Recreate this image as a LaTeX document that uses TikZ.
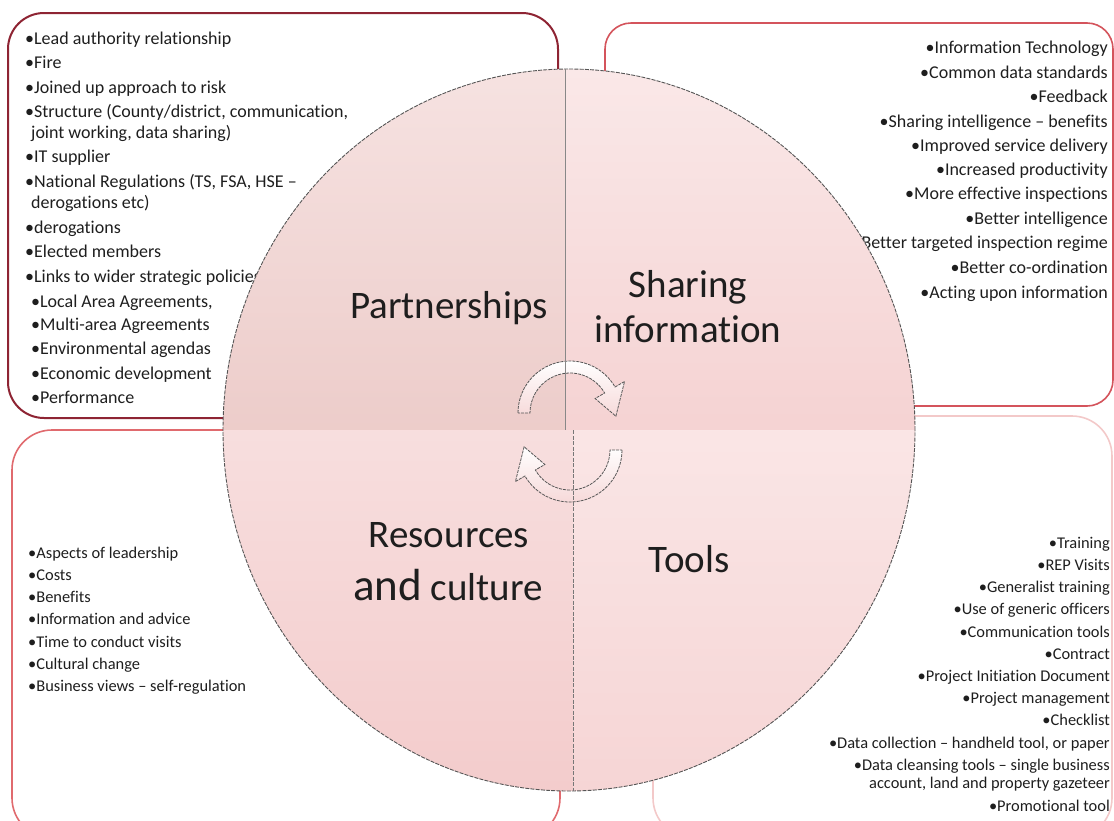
\documentclass[tikz,border=0pt]{standalone}
\usepackage{fontspec}
\setmainfont{Carlito}[Ligatures={NoCommon}]
\usetikzlibrary{calc}
\definecolor{boxtl}{HTML}{8E2433}
\definecolor{boxtr}{HTML}{D4545C}
\definecolor{boxbl}{HTML}{E06A6E}
\definecolor{boxbr}{HTML}{F3C9C9}
\definecolor{tltop}{HTML}{F6E2E1}
\definecolor{tlbot}{HTML}{E3B7B3}
\definecolor{trtop}{HTML}{FAE8E8}
\definecolor{trbot}{HTML}{F0BDBD}
\definecolor{bltop}{HTML}{FCF0F0}
\definecolor{blbot}{HTML}{F3CCCC}
\definecolor{brtop}{HTML}{FEF6F6}
\definecolor{brbot}{HTML}{F6D5D5}
\definecolor{txt}{HTML}{1E1E1E}
\definecolor{rim}{HTML}{555555}
\tikzset{
  cbox/.style={line width=1.6pt, rounded corners=36pt},
  li/.style={font=\fontsize{18}{21}\selectfont, text=txt, inner sep=0pt},
  lis/.style={font=\fontsize{16.4}{19}\selectfont, text=txt, inner sep=0pt},
  big/.style={font=\fontsize{39}{45}\selectfont, text=txt, inner sep=0pt, anchor=base},
  rimline/.style={draw=rim, line width=0.9pt, dash pattern=on 4pt off 1.2pt},
  cyc/.style={draw=rim, line width=0.8pt, dash pattern=on 3pt off 1pt, top color=white, bottom color=boxbr!70}
}
\begin{document}
\begin{tikzpicture}[x=1pt,y=1pt]
\useasboundingbox (0,0) rectangle (1114,-820);
% corner boxes
\draw[cbox, draw=boxtl, line width=2pt] (8,-13) rectangle (558,-418);
\draw[cbox, draw=boxtr, rounded corners=26pt] (605,-23) rectangle (1113,-406);
\draw[cbox, draw=boxbl, rounded corners=40pt] (12,-430) rectangle (560,-838);
\draw[cbox, draw=boxbr, rounded corners=40pt] (653,-416) rectangle (1112,-838);
% top-left list
\foreach \t/\x/\y [count=\i] in {
 {•Lead authority relationship}/25/44.5,
 {•Fire}/25/68.5,
 {•Joined up approach to risk}/25/93.5,
 {•Structure (County/district, communication,}/25/117.5,
 {joint working, data sharing)}/31/138.5,
 {•IT supplier}/25/162.5,
 {•National Regulations (TS, FSA, HSE –}/25/187.5,
 {derogations etc)}/31/208.5,
 {•derogations}/25/233.5,
 {•Elected members}/25/257.5,
 {•Links to wider strategic policies}/25/282.5,
 {•Local Area Agreements,}/31/307.5,
 {•Multi-area Agreements}/31/330.5,
 {•Environmental agendas}/31/354.5,
 {•Economic development}/31/379.5,
 {•Performance}/31/403.5}
 \node[li, anchor=base west] (tl\i) at (\x,-\y) {\t};
% top-right list
\foreach \t/\y [count=\i] in {
 {•Information Technology}/53.5,
 {•Common data standards}/78.5,
 {•Feedback}/102.5,
 {•Sharing intelligence – benefits}/127.5,
 {•Improved service delivery}/151.5,
 {•Increased productivity}/175.5,
 {•More effective inspections}/199.5,
 {•Better intelligence}/224.5,
 {•Better targeted inspection regime}/248.5,
 {•Better co-ordination}/273.5,
 {•Acting upon information}/298.5}
 \node[li, anchor=base east] (tr\i) at (1108,-\y) {\t};
% bottom-left list
\foreach \t/\y [count=\i] in {
 {•Aspects of leadership}/558,
 {•Costs}/580,
 {•Benefits}/602,
 {•Information and advice}/624,
 {•Time to conduct visits}/647,
 {•Cultural change}/669,
 {•Business views – self-regulation}/691}
 \node[lis, anchor=base west] (bl\i) at (28,-\y) {\t};
% bottom-right list
\foreach \t/\y [count=\i] in {
 {•Training}/548,
 {•REP Visits}/570,
 {•Generalist training}/592,
 {•Use of generic officers}/614,
 {•Communication tools}/637,
 {•Contract}/659,
 {•Project Initiation Document}/681,
 {•Project management}/703,
 {•Checklist}/725,
 {•Data collection – handheld tool, or paper}/748,
 {•Data cleansing tools – single business}/770,
 {account, land and property gazeteer}/788,
 {•Promotional tool}/811}
 \node[lis, anchor=base east] (br\i) at (1110,-\y) {\t};
% central circle quadrants
\coordinate (cc) at (569,-430);
\begin{scope}
 \clip (0,-430) rectangle (565,0);
 \shade[top color=tltop, bottom color=tlbot] (cc) ellipse[x radius=346, y radius=361];
\end{scope}
\begin{scope}
 \clip (565,-430) rectangle (1114,0);
 \shade[top color=trtop, bottom color=trbot] (cc) ellipse[x radius=346, y radius=361];
\end{scope}
\begin{scope}
 \clip (0,-430) rectangle (573,-820);
 \shade[top color=bltop, bottom color=blbot] (cc) ellipse[x radius=346, y radius=361];
\end{scope}
\begin{scope}
 \clip (573,-430) rectangle (1114,-820);
 \shade[top color=brtop, bottom color=brbot] (cc) ellipse[x radius=346, y radius=361];
\end{scope}
\draw[rimline] (cc) ellipse[x radius=346, y radius=361];
% cycle arrows
\coordinate (ca) at (570,-413);
\coordinate (cb) at (570,-450);
\path[cyc] ($(ca)+(180:52)$) arc[start angle=180, end angle=30, radius=52]
  -- ($(ca)+(30:63)$) -- ($(ca)+(-4:46)$) -- ($(ca)+(30:29)$) -- ($(ca)+(30:40)$)
  arc[start angle=30, end angle=180, radius=40] -- cycle;
\path[cyc] ($(cb)+(0:52)$) arc[start angle=0, end angle=-150, radius=52]
  -- ($(cb)+(-150:63)$) -- ($(cb)+(176:46)$) -- ($(cb)+(-150:29)$) -- ($(cb)+(-150:40)$)
  arc[start angle=-150, end angle=0, radius=40] -- cycle;
% dividers
\draw[rim!70, line width=0.6pt] (565,-69) -- (565,-430);
\draw[rim!80, line width=0.7pt, dash pattern=on 4pt off 1.5pt] (573,-430) -- (573,-791);
% labels
\node[big] (part) at (449,-318) {Partnerships};
\node[big] (sh1) at (688,-297) {Sharing};
\node[big] (sh2) at (688,-342) {information};
\node[big] (res1) at (449,-547) {Resources};
\node[big] (res2) at (448,-600) {{\fontsize{45}{45}\selectfont and} culture};
\node[big] (tools) at (689,-572) {Tools};
\end{tikzpicture}
\end{document}
